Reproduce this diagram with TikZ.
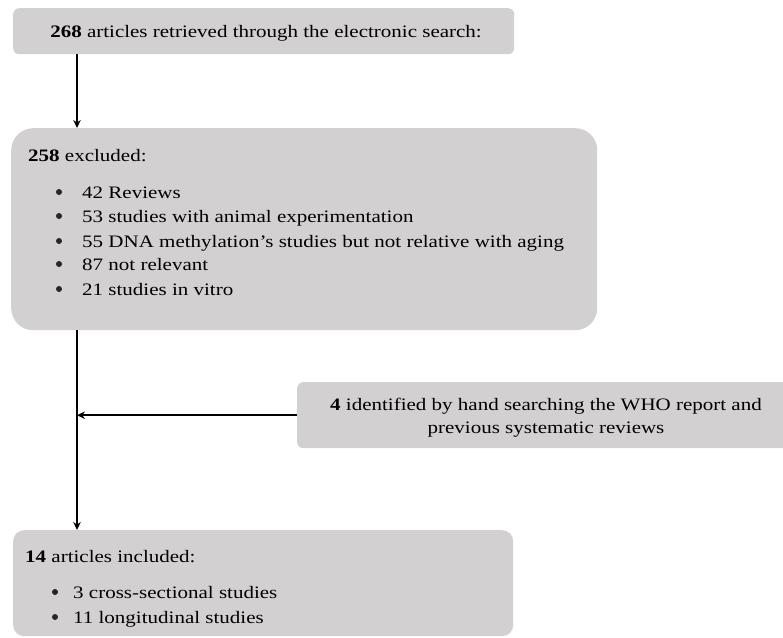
\documentclass[tikz,border=0pt]{standalone}
\usepackage{fontspec}
\setmainfont{Liberation Serif}[FakeStretch=1.2]
\usetikzlibrary{arrows.meta}
\definecolor{boxgray}{RGB}{211,208,209}
\tikzset{
  box/.style={fill=boxgray, draw=none, inner sep=0pt, anchor=north west},
  txt/.style={inner sep=0pt, anchor=base west, font=\fontsize{17.5}{21}\selectfont},
  ctxt/.style={inner sep=0pt, anchor=base, font=\fontsize{17.5}{21}\selectfont},
  dot/.style={circle, fill=black!85, inner sep=0pt, minimum size=6pt},
  flow/.style={line width=2.2pt, -{Stealth[length=8pt,width=7.5pt]}},
}
\begin{document}
\begin{tikzpicture}[x=1pt,y=-1pt]
\useasboundingbox (0,0) rectangle (783,637);
\begin{scope}
\clip (0,0) rectangle (783,637);
% grey boxes
\node[box, rounded corners=6pt, minimum width=501pt, minimum height=46pt] (search) at (13,8) {};
\node[box, rounded corners=22pt, minimum width=586pt, minimum height=202pt] (excl) at (11,128) {};
\node[box, rounded corners=6pt, minimum width=503pt, minimum height=66pt] (hand) at (297,382) {};
\node[box, rounded corners=11pt, minimum width=500pt, minimum height=106pt] (incl) at (13,530) {};
\end{scope}
\coordinate (trunk) at (77,0);

% texts
\node[ctxt] (t1) at (266,37) {\textbf{268} articles retrieved through the electronic search:};

\node[txt] (t2) at (28,161) {\textbf{258} excluded:};
\foreach \y/\s [count=\i] in {198/42 Reviews, 222/53 studies with animal experimentation,
  247/55 DNA methylation’s studies but not relative with aging,
  270/87 not relevant, 295/21 studies in vitro} {
  \node[dot] (b\i) at (59,\y-6) {};
  \node[txt] (e\i) at (82,\y) {\s};
}

\node[ctxt] (t3a) at (546,410) {\textbf{4} identified by hand searching the WHO report and};
\node[ctxt] (t3b) at (546,433) {previous systematic reviews};

\node[txt] (t4) at (25,562) {\textbf{14} articles included:};
\node[dot] (c1) at (55,592) {};
\node[txt] (i1) at (73,598) {3 cross-sectional studies};
\node[dot] (c2) at (55,617) {};
\node[txt] (i2) at (73,623) {11 longitudinal studies};

% connectors
\draw[flow] (search.south -| trunk) -- (excl.north -| trunk);
\draw[flow] (excl.south -| trunk) -- (incl.north -| trunk);
\draw[flow] (hand.west) -- (hand.west -| trunk);
\end{tikzpicture}
\end{document}
